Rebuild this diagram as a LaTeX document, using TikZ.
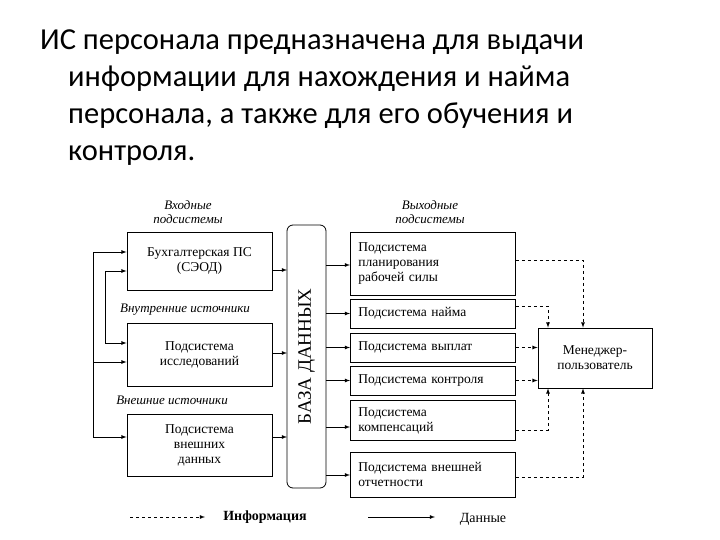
\documentclass[tikz,border=0pt]{standalone}
\usepackage{fontspec}
\setmainfont{Liberation Serif}
\newfontfamily\titlefont{Carlito}
\usetikzlibrary{positioning}
\tikzset{
  blk/.style={draw,thick,align=center,font=\fontsize{13.5}{15}\selectfont,inner sep=2pt},
  outblk/.style={blk,align=left,text width=149,inner xsep=8pt,anchor=west},
  lbl/.style={font=\itshape\fontsize{13}{13.5}\selectfont,align=center},
  dat/.style={thick,-latex},
  inf/.style={thick,dashed,-latex}
}
\begin{document}
\begin{tikzpicture}[x=1pt,y=-1pt]
		\useasboundingbox (0,0) rectangle (720,540);
		\node[anchor=north west,align=left,font=\titlefont\fontsize{30.5}{37}\selectfont,inner sep=0pt] (title) at (40,30)
		{ИС персонала предназначена для выдачи\\\hspace*{28pt}информации для нахождения и найма\\\hspace*{28pt}персонала, а также для его обучения и\\\hspace*{28pt}контроля.};
		% input subsystems
		\node[blk,minimum width=145,minimum height=58] (buh) at (199.5,261) {Бухгалтерская ПС\\(СЭОД)};
		\node[blk,minimum width=145,minimum height=63] (isl) at (199.5,354.5) {Подсистема\\исследований};
		\node[blk,minimum width=145,minimum height=62] (ext) at (199.5,445) {Подсистема\\внешних\\данных};
		\node[lbl] (inlbl) at (188,212) {Входные\\подсистемы};
		\node[lbl] (intsrc) at (185,310) {Внутренние источники};
		\node[lbl] (extsrc) at (172,400) {Внешние источники};
		% data base
		\node[draw,thick,rounded corners=6pt,minimum width=39,minimum height=263] (base) at (306.5,356.5) {};
		\node[rotate=90] (basetxt) at (base) {\fontsize{19}{19}\selectfont БАЗА ДАННЫХ};
		\coordinate (bw) at (287,356);
		\coordinate (be) at (326,356);
		% output subsystems
		\node[lbl] (outlbl) at (430,212) {Выходные\\подсистемы};
		\node[outblk,minimum height=63] (plan) at (350,263.5) {Подсистема\\планирования\\рабочей силы};
		\node[outblk,minimum height=29] (naim) at (350,313.5) {Подсистема найма};
		\node[outblk,minimum height=29] (vypl) at (350,347.5) {Подсистема выплат};
		\node[outblk,minimum height=29] (kont) at (350,380.5) {Подсистема контроля};
		\node[outblk,minimum height=40] (komp) at (350,420.5) {Подсистема\\компенсаций};
		\node[outblk,minimum height=45] (otch) at (350,474.5) {Подсистема внешней\\отчетности};
		\node[blk,minimum width=114,minimum height=60] (man) at (595,358) {Менеджер-\\пользователь};
		% left feedback lines
		\coordinate (o1) at (93,252);
		\coordinate (o2) at (93,437);
		\coordinate (o3) at (93,362);
		\coordinate (i1) at (105,271);
		\coordinate (i2) at (105,343);
		\draw[dat] (o1) -- (buh.west |- o1);
		\draw[dat] (o1) -- (o2) -- (ext.west |- o2);
		\draw[dat] (o3) -- (isl.west |- o3);
		\draw[dat] (i1) -- (buh.west |- i1);
		\draw[dat] (i1) -- (i2) -- (isl.west |- i2);
		% into data base
		\coordinate (d1) at (0,270);
		\coordinate (d2) at (0,353);
		\coordinate (d3) at (0,437);
		\draw[dat] (buh.east |- d1) -- (bw |- d1);
		\draw[dat] (isl.east |- d2) -- (bw |- d2);
		\draw[dat] (ext.east |- d3) -- (bw |- d3);
		% out of data base
		\coordinate (e1) at (0,265);
		\coordinate (e5) at (0,427);
		\coordinate (e6) at (0,475);
		\draw[dat] (be |- e1) -- (plan.west |- e1);
		\draw[dat] (be |- naim.west) -- (naim.west);
		\draw[dat] (be |- vypl.west) -- (vypl.west);
		\draw[dat] (be |- kont.west) -- (kont.west);
		\draw[dat] (be |- e5) -- (komp.west |- e5);
		\draw[dat] (be |- e6) -- (otch.west |- e6);
		% to manager
		\coordinate (m1) at (583,260);
		\coordinate (m2) at (548,306);
		\coordinate (m5) at (548,430);
		\coordinate (m6) at (583,477);
		\draw[inf] (plan.east |- m1) -| (man.north -| m1);
		\draw[inf] (naim.east |- m2) -| (man.north -| m2);
		\draw[inf] (vypl.east) -- (man.west |- vypl);
		\draw[inf] (kont.east) -- (man.west |- kont);
		\draw[inf] (komp.east |- m5) -| (man.south -| m5);
		\draw[inf] (otch.east |- m6) -| (man.south -| m6);
		% legend
		\coordinate (l1) at (130,517);
		\coordinate (l2) at (205,517);
		\coordinate (l3) at (368,517);
		\coordinate (l4) at (435,517);
		\draw[inf] (l1) -- (l2);
		\node[font=\bfseries\fontsize{14}{14}\selectfont] (leginf) at (265,517) {Информация};
		\draw[dat] (l3) -- (l4);
		\node[font=\fontsize{14}{14}\selectfont] (legdat) at (483,519) {Данные};
\end{tikzpicture}
\end{document}
